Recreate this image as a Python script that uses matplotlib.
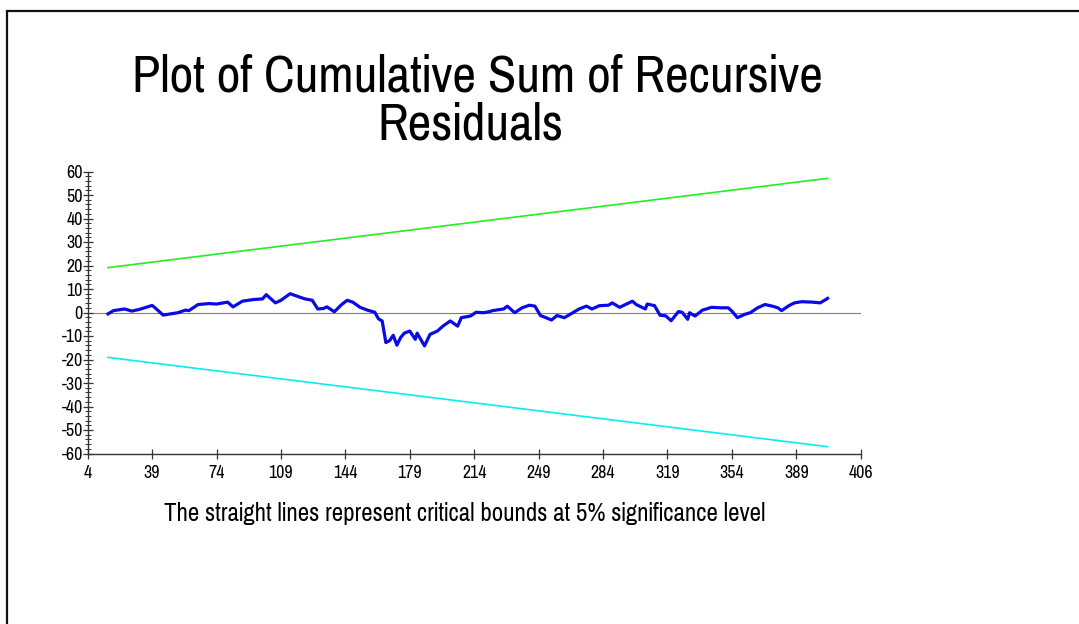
import matplotlib
matplotlib.use("Agg")
import matplotlib.pyplot as plt
from matplotlib import font_manager as fm
from matplotlib.patches import Rectangle
from matplotlib.ticker import MultipleLocator

# pick a narrow sans face, falling back to regular sans
_available = {f.name for f in fm.fontManager.ttflist}
_narrow = [n for n in ("Pragati Narrow", "Archivo Narrow", "PT Sans Narrow",
                       "Roboto Condensed", "Liberation Sans Narrow",
                       "IBM Plex Sans Condensed") if n in _available]
FONT = _narrow[:1] + ["Liberation Sans", "DejaVu Sans"]
plt.rcParams["font.family"] = FONT

# Cumulative sum of recursive residuals (observation, CUSUM value)
obs = [15, 18, 24, 28, 32, 39, 40, 45, 49, 53, 57, 59, 64, 70, 74, 80, 83, 88,
       94, 99, 101, 106, 109, 114, 119, 122, 126, 129, 132, 134, 138, 142, 145,
       148, 152, 156, 160, 162, 164, 166, 168, 170, 172, 174, 176, 179, 182,
       183, 187, 190, 194, 197, 201, 205, 207, 212, 215, 219, 222, 224, 230,
       232, 236, 240, 244, 247, 250, 253, 256, 259, 263, 268, 271, 275, 278,
       282, 287, 289, 293, 300, 302, 307, 308, 312, 315, 318, 321, 325, 327,
       330, 331, 334, 338, 343, 348, 352, 354, 357, 361, 364, 368, 372, 376,
       379, 381, 385, 388, 392, 398, 402, 405, 406]
cusum = [-0.6, 0.8, 1.5, 0.6, 1.3, 3.0, 2.4, -1.1, -0.6, -0.1, 1.0, 0.8, 3.4,
         3.8, 3.6, 4.4, 2.4, 4.8, 5.5, 5.8, 7.6, 4.1, 5.2, 8.0, 6.6, 5.8, 5.2,
         1.5, 1.7, 2.4, 0.3, 3.4, 5.2, 4.4, 2.2, 1.0, 0.1, -2.7, -3.6, -12.8,
         -12.0, -9.7, -13.9, -10.7, -8.8, -7.9, -11.4, -8.8, -14.2, -9.3, -7.9,
         -5.8, -3.6, -5.8, -2.2, -1.5, 0.1, -0.1, 0.3, 0.8, 1.5, 2.7, -0.1,
         2.0, 3.1, 2.7, -1.3, -2.2, -3.2, -1.3, -2.2, 0.1, 1.5, 2.7, 1.5, 2.9,
         3.1, 4.1, 2.2, 4.8, 3.4, 1.5, 3.6, 2.9, -1.2, -1.4, -3.5, 0.4, 0.1,
         -2.9, -0.1, -1.5, 1.0, 2.2, 2.0, 2.0, 0.6, -2.2, -0.8, -0.1, 2.0, 3.4,
         2.7, 2.0, 0.8, 2.9, 4.1, 4.6, 4.4, 4.1, 5.5, 6.0]

# 5% critical bounds (straight lines between first and last observation)
bound_obs = [15, 406]
upper_bound = [19.1, 57.1]
lower_bound = [-19.1, -57.1]

x_ticks = [4, 39, 74, 109, 144, 179, 214, 249, 284, 319, 354, 389, 424]
x_tick_labels = ["4", "39", "74", "109", "144", "179", "214", "249", "284",
                 "319", "354", "389", "406"]
y_ticks = [60, 50, 40, 30, 20, 10, 0, -10, -20, -30, -40, -50, -60]

W, H = 1079, 624
fig = plt.figure(figsize=(W / 100, H / 100), dpi=100)
fig.patch.set_facecolor("white")

# outer frame
fig.add_artist(Rectangle((7 / W, -0.05), 1.2, (H - 11) / H + 0.05,
                         transform=fig.transFigure, fill=False,
                         edgecolor="#111111", linewidth=1.6))

ax = fig.add_axes([87.7 / W, 170.5 / H, 773 / W, 282 / H])
ax.set_xlim(4, 424)
ax.set_ylim(-60, 60)

ax.axhline(0, color="#808080", linewidth=0.8, zorder=1)
ax.plot(bound_obs, upper_bound, color="#22ee22", linewidth=1.2, zorder=2)
ax.plot(bound_obs, lower_bound, color="#00f0f0", linewidth=1.2, zorder=2)
ax.plot(obs, cusum, color="#0a0ae6", linewidth=2.3, zorder=3,
        solid_joinstyle="round")

for side in ("top", "right"):
    ax.spines[side].set_visible(False)
for side in ("left", "bottom"):
    ax.spines[side].set_color("#333333")
    ax.spines[side].set_linewidth(1.0)

ax.set_xticks(x_ticks)
ax.set_xticklabels(x_tick_labels)
ax.set_yticks(y_ticks)
ax.set_yticklabels([str(v) for v in y_ticks])
ax.yaxis.set_minor_locator(MultipleLocator(2))
ax.tick_params(axis="x", direction="inout", length=7, width=0.9,
               colors="#333333", labelcolor="black", labelsize=14, pad=5)
ax.tick_params(axis="y", which="major", direction="inout", length=7,
               width=0.9, colors="#333333", labelcolor="black",
               labelsize=14, pad=0)
ax.tick_params(axis="y", which="minor", direction="inout", length=4,
               width=0.7, colors="#333333")

fig.text(477 / W, 1 - 92 / H, "Plot of Cumulative Sum of Recursive",
         ha="center", va="baseline", fontsize=40.5, color="black")
fig.text(470 / W, 1 - 139 / H, "Residuals",
         ha="center", va="baseline", fontsize=40.5, color="black")
fig.text(465 / W, 1 - 521 / H,
         "The straight lines represent critical bounds at 5% significance level",
         ha="center", va="baseline", fontsize=19.5, color="black")

fig.savefig("out.png", dpi=100)
